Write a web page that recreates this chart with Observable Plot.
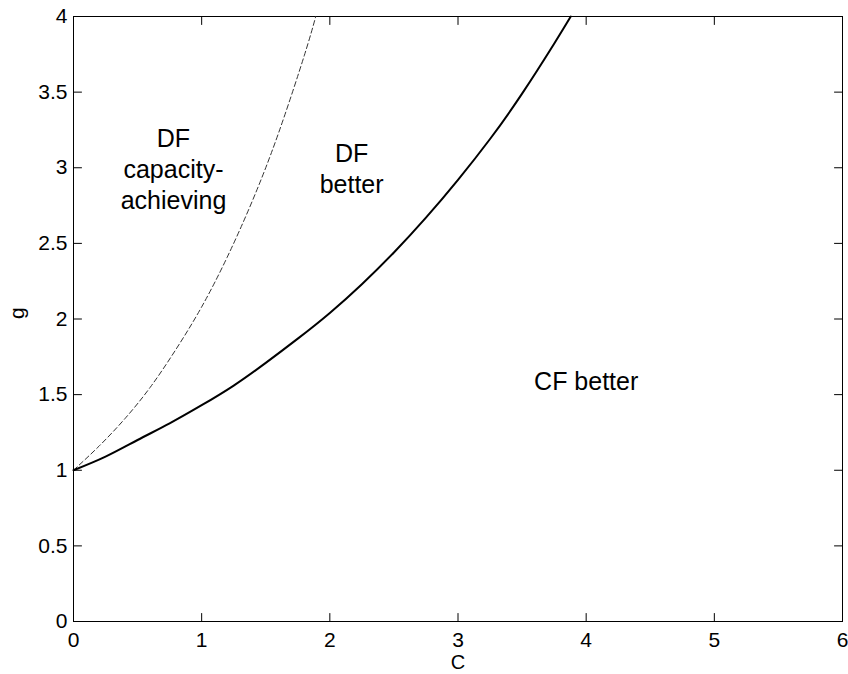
<!DOCTYPE html>
<html>
<head>
<meta charset="utf-8">
<script src="https://cdn.jsdelivr.net/npm/d3@7"></script>
<script src="https://cdn.jsdelivr.net/npm/@observablehq/plot@0.6"></script>
<style>
  html, body { margin: 0; padding: 0; background: #fff; }
  #chart { width: 848px; height: 674px; }
</style>
</head>
<body>
<div id="chart"></div>
<script>
// Solid boundary (DF better / CF better)
const cSolid = [0, 0.25, 0.5, 0.75, 1.0, 1.25, 1.5, 1.75, 2.0, 2.25, 2.5, 2.75, 3.0, 3.25, 3.5, 3.75, 3.88];
const gSolid = [1.0, 1.09, 1.2, 1.31, 1.43, 1.56, 1.71, 1.87, 2.04, 2.23, 2.44, 2.67, 2.92, 3.19, 3.49, 3.82, 4.0];

// Dashed boundary (DF capacity-achieving)
const cDashed = [0, 0.2, 0.4, 0.6, 0.8, 1.0, 1.2, 1.4, 1.6, 1.8, 1.89];
const gDashed = [1.0, 1.16, 1.34, 1.55, 1.8, 2.08, 2.41, 2.79, 3.23, 3.74, 4.0];

const xTicks = [0, 1, 2, 3, 4, 5, 6];
const xTickLabels = ["0", "1", "2", "3", "4", "5", "6"];
const yTicks = [0, 0.5, 1, 1.5, 2, 2.5, 3, 3.5, 4];
const yTickLabels = ["0", "0.5", "1", "1.5", "2", "2.5", "3", "3.5", "4"];

const regionLabels = [
  {c: 0.78, g: 3.0, text: "DF\ncapacity-\nachieving"},
  {c: 2.17, g: 3.0, text: "DF\nbetter"},
  {c: 4.0, g: 1.6, text: "CF better"}
];

const solid = cSolid.map((c, i) => ({c, g: gSolid[i]}));
const dashed = cDashed.map((c, i) => ({c, g: gDashed[i]}));

const tickShape = {draw(context, l) { context.moveTo(0, 0); context.lineTo(0, -l); }};
const font = "'Liberation Sans', Arial, Helvetica, sans-serif";

const chart = Plot.plot({
  width: 848,
  height: 674,
  marginLeft: 73,
  marginRight: 6,
  marginTop: 16,
  marginBottom: 53,
  style: {fontFamily: font, fontSize: "21px", color: "#000", background: "#fff"},
  x: {domain: [0, 6]},
  y: {domain: [0, 4]},
  marks: [
    Plot.axisX(xTicks, {tickSize: 0, tickPadding: 11, tickFormat: d => xTickLabels[xTicks.indexOf(d)], label: null, fontSize: 21}),
    Plot.axisY(yTicks, {tickSize: 0, tickPadding: 6, tickFormat: d => yTickLabels[yTicks.indexOf(d)], label: null, fontSize: 21}),
    // inward ticks on all four sides
    Plot.vector(xTicks, {x: d => d, y: 0, length: 8, rotate: 0, anchor: "start", shape: tickShape, stroke: "#000", strokeWidth: 1}),
    Plot.vector(xTicks, {x: d => d, y: 4, length: 8, rotate: 180, anchor: "start", shape: tickShape, stroke: "#000", strokeWidth: 1}),
    Plot.vector(yTicks, {x: 0, y: d => d, length: 8, rotate: 90, anchor: "start", shape: tickShape, stroke: "#000", strokeWidth: 1}),
    Plot.vector(yTicks, {x: 6, y: d => d, length: 8, rotate: -90, anchor: "start", shape: tickShape, stroke: "#000", strokeWidth: 1}),
    Plot.frame({stroke: "#000", strokeWidth: 1}),
    Plot.line(dashed, {x: "c", y: "g", curve: "natural", stroke: "#333", strokeWidth: 1, strokeDasharray: "5,3"}),
    Plot.line(solid, {x: "c", y: "g", curve: "natural", stroke: "#000", strokeWidth: 2}),
    Plot.text(regionLabels, {x: "c", y: "g", text: "text", fontSize: 25, lineHeight: 1.25, textAnchor: "middle", lineAnchor: "middle", fill: "#000"}),
    Plot.text(["C"], {frameAnchor: "bottom", dy: 41, lineAnchor: "middle", fontSize: 20, fill: "#000"}),
    Plot.text(["g"], {frameAnchor: "left", dx: -56, rotate: -90, lineAnchor: "middle", fontSize: 21, fill: "#000"})
  ]
});
document.getElementById("chart").appendChild(chart);
</script>
</body>
</html>
